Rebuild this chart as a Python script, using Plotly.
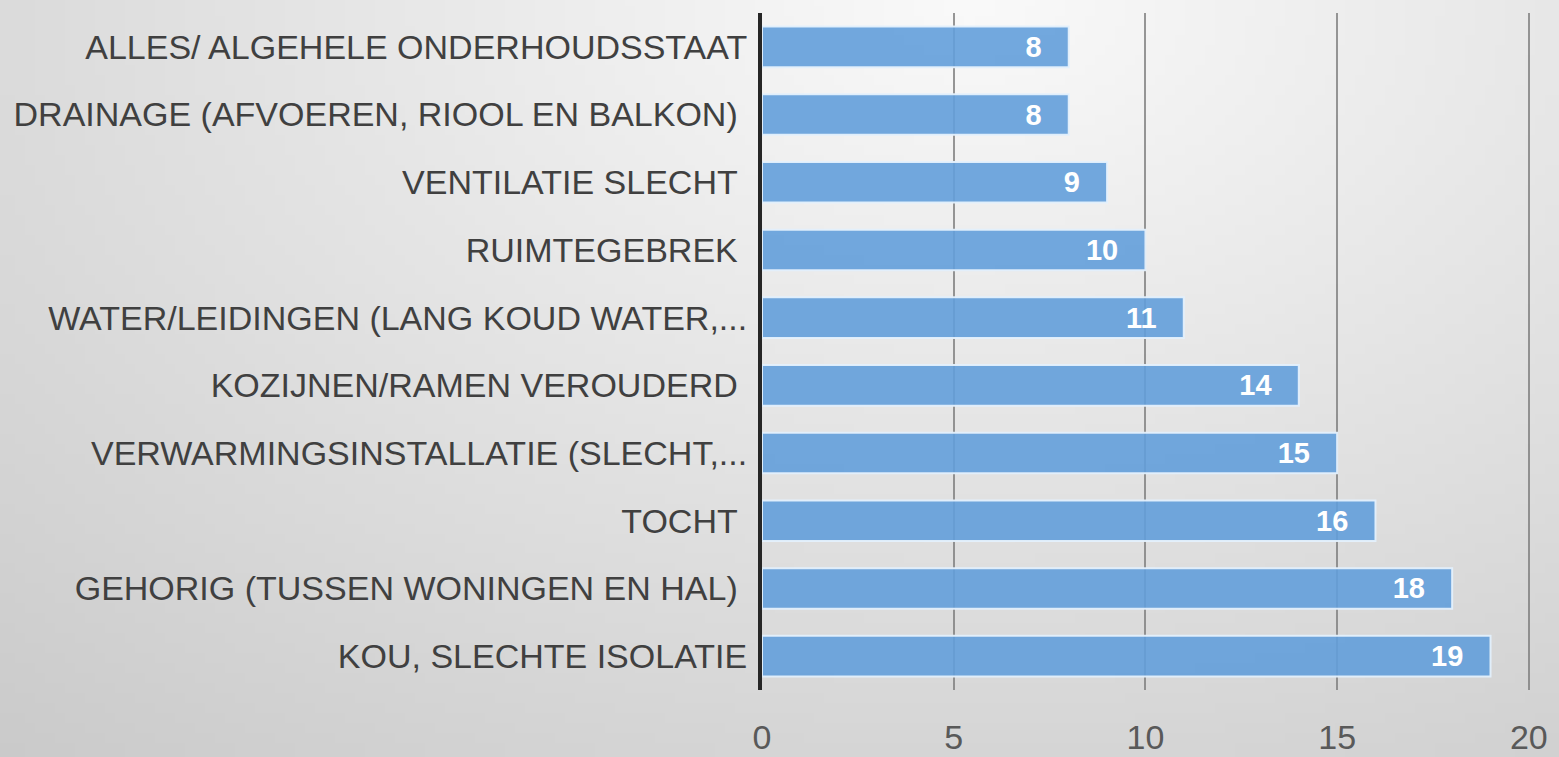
import base64
import math
import struct
import zlib

import plotly.graph_objects as go

# ---------------- data ----------------
categories = [
    "ALLES/ ALGEHELE ONDERHOUDSSTAAT",
    "DRAINAGE (AFVOEREN, RIOOL EN BALKON)\u00a0",
    "VENTILATIE SLECHT\u00a0",
    "RUIMTEGEBREK\u00a0",
    "WATER/LEIDINGEN (LANG KOUD WATER,...",
    "KOZIJNEN/RAMEN VEROUDERD\u00a0",
    "VERWARMINGSINSTALLATIE (SLECHT,...",
    "TOCHT\u00a0",
    "GEHORIG (TUSSEN WONINGEN EN HAL)\u00a0",
    "KOU, SLECHTE ISOLATIE",
]
values = [8, 8, 9, 10, 11, 14, 15, 16, 18, 19]
x_ticks = [0, 5, 10, 15, 20]


# ---------------- background gradient (decoration) ----------------
def gradient_png(w=156, h=76):
    rows = []
    cx, cy = 0.62 * w, 0.0
    for j in range(h):
        row = bytearray([0])
        for i in range(w):
            dx = (i - cx) / (w * 0.85)
            dy = (j - cy) / (h * 1.15)
            d = math.sqrt(dx * dx + dy * dy)
            v = 250 - 42 * min(d, 1.2)
            v = int(max(198, min(251, v)))
            row += bytes([v, v, v])
        rows.append(bytes(row))
    raw = b"".join(rows)

    def chunk(tag, data):
        c = struct.pack(">I", len(data)) + tag + data
        return c + struct.pack(">I", zlib.crc32(tag + data) & 0xFFFFFFFF)

    png = b"\x89PNG\r\n\x1a\n"
    png += chunk(b"IHDR", struct.pack(">IIBBBBB", w, h, 8, 2, 0, 0, 0))
    png += chunk(b"IDAT", zlib.compress(raw, 9))
    png += chunk(b"IEND", b"")
    return "data:image/png;base64," + base64.b64encode(png).decode()


W, H = 1559, 757
ML, MR, MT, MB = 762, 29, 13, 67
PW, PH = W - ML - MR, H - MT - MB

FONT = "Liberation Sans, Arial, sans-serif"

fig = go.Figure()
fig.add_trace(
    go.Bar(
        x=values,
        y=categories,
        orientation="h",
        marker=dict(
            color="rgba(99,158,218,0.9)",
            line=dict(color="rgba(228,240,252,0.95)", width=2),
        ),
        width=0.6,
        text=values,
        texttemplate="%{x}\u00a0\u00a0\u00a0",
        textposition="inside",
        insidetextanchor="end",
        textfont=dict(family=FONT, size=29, color="white", weight="bold"),
        cliponaxis=False,
        hoverinfo="x+y",
    )
)

fig.update_layout(
    width=W,
    height=H,
    margin=dict(l=ML, r=MR, t=MT, b=MB, pad=0, autoexpand=False),
    paper_bgcolor="#d8d8d8",
    plot_bgcolor="rgba(0,0,0,0)",
    showlegend=False,
    images=[
        dict(
            source=gradient_png(),
            xref="paper",
            yref="paper",
            x=-ML / PW,
            y=1 + MT / PH,
            sizex=W / PW,
            sizey=H / PH,
            xanchor="left",
            yanchor="top",
            sizing="stretch",
            layer="below",
        )
    ],
    font=dict(family=FONT),
)

fig.update_xaxes(
    range=[0, 20.03],
    tickvals=x_ticks,
    ticktext=[str(t) for t in x_ticks],
    showgrid=True,
    gridcolor="rgba(125,125,125,0.8)",
    gridwidth=2,
    zeroline=False,
    showline=False,
    ticks="outside",
    ticklen=17,
    tickcolor="rgba(0,0,0,0)",
    tickfont=dict(family=FONT, size=34, color="#595959"),
    automargin=False,
    fixedrange=True,
)

fig.update_yaxes(
    autorange="reversed",
    showline=True,
    linecolor="#262626",
    linewidth=4,
    showgrid=False,
    ticks="outside",
    ticklen=4,
    tickcolor="rgba(0,0,0,0)",
    tickfont=dict(family=FONT, size=34, color="#404040"),
    automargin=False,
    fixedrange=True,
)

fig.write_html(
    "out.html",
    config={"displayModeBar": False},
    post_script="document.body.style.margin='0';document.body.style.overflow='hidden';",
)
